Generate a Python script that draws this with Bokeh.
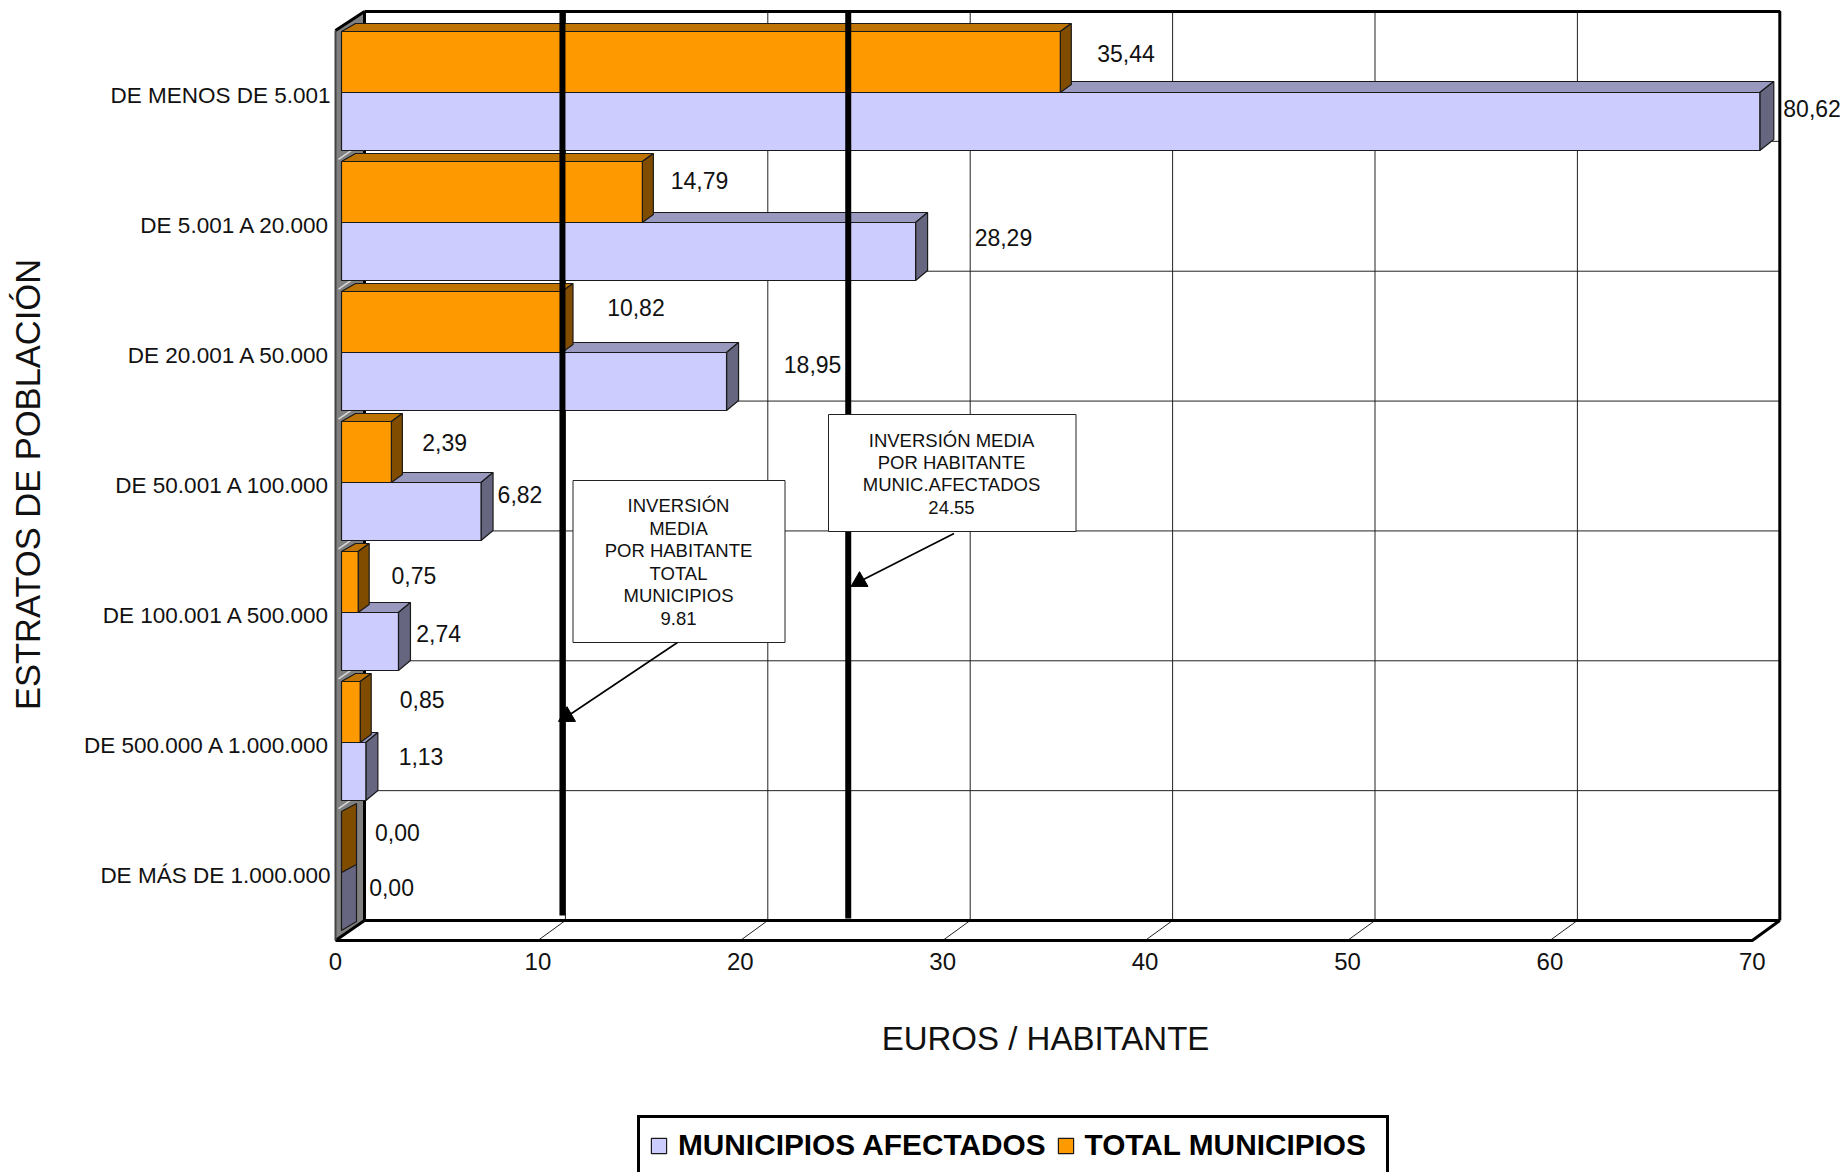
import math
from bokeh.embed import file_html
from bokeh.resources import INLINE
from bokeh.plotting import figure
from bokeh.models import Range1d, FixedTicker, Label, Legend, LegendItem
from bokeh.core.properties import value

# ---- data -----------------------------------------------------------------
categories = ["DE MENOS DE 5.001", "DE 5.001 A 20.000", "DE 20.001 A 50.000",
              "DE 50.001 A 100.000", "DE 100.001 A 500.000",
              "DE 500.000 A 1.000.000", "DE MÁS DE 1.000.000"]
afectados = [80.62, 28.29, 18.95, 6.82, 2.74, 1.13, 0.00]
total = [35.44, 14.79, 10.82, 2.39, 0.75, 0.85, 0.00]
afectados_labels = ["80,62", "28,29", "18,95", "6,82", "2,74", "1,13", "0,00"]
total_labels = ["35,44", "14,79", "10,82", "2,39", "0,75", "0,85", "0,00"]
x_ticks = [0, 10, 20, 30, 40, 50, 60, 70]
AXIS_MAX = 70
mean_lines = [9.78, 23.9]      # where the two black lines stand on the back wall
note_total = ["INVERSIÓN", "MEDIA", "POR HABITANTE", "TOTAL", "MUNICIPIOS", "9.81"]
note_afect = ["INVERSIÓN MEDIA", "POR HABITANTE", "MUNIC.AFECTADOS", "24.55"]

# ---- layout constants: page pixels -> data --------------------------------
FONT = "Liberation Sans"
PX_X, PX_Y = 20.24, 130.0
X0_PAGE, Y0_PAGE = 335.0, 95.0
def X(px): return (px - X0_PAGE) / PX_X
def Y(py): return (py - Y0_PAGE) / PX_Y
def W(d): return d / PX_X
def H(d): return d / PX_Y

CW, CH = 1847, 1172
p = figure(width=CW, height=CH, output_backend="svg", toolbar_location=None,
           x_range=Range1d(X(0), X(CW)), y_range=Range1d(Y(CH), Y(0)),
           min_border_left=0, min_border_right=0, min_border_top=0, min_border_bottom=0,
           background_fill_color="white", border_fill_color="white")
p.outline_line_color = None
p.grid.visible = False

xa = p.xaxis[0]
xa.fixed_location = Y(946)
xa.ticker = FixedTicker(ticks=x_ticks)
xa.axis_line_color = None
xa.major_tick_line_color = None
xa.minor_tick_line_color = None
xa.major_tick_out = 0
xa.major_tick_in = 0
xa.major_label_text_font = FONT
xa.major_label_text_font_size = "24px"
xa.major_label_text_color = "#111111"
xa.major_label_standoff = 6

ya = p.yaxis[0]
ya.fixed_location = X(333)
ya.ticker = FixedTicker(ticks=list(range(len(categories))))
ya.major_label_overrides = {i: c for i, c in enumerate(categories)}
ya.axis_line_color = None
ya.major_tick_line_color = None
ya.minor_tick_line_color = None
ya.major_tick_out = 0
ya.major_tick_in = 0
ya.major_label_text_font = FONT
ya.major_label_text_font_size = "22.5px"
ya.major_label_text_color = "#111111"
ya.major_label_standoff = 3

# ---- chart box ------------------------------------------------------------
DX, DY = 29, 20              # depth of the box in pixels
GX = W(27.5)                 # back-wall shift of the grid and the right edge
nrows = len(categories)
front_top, front_bot = -0.5, nrows - 0.5   # row units on the front plane
back_x0, back_xn = W(DX), AXIS_MAX + GX
back_top, back_bot = front_top - H(DY) + H(1), front_bot - H(DY)

p.patch([0, W(DX), W(DX), 0], [front_top, back_top, back_bot, front_bot],
        fill_color="#808080", line_color="#808080")
for t in x_ticks[1:-1]:
    p.segment(t + GX, back_top, t + GX, back_bot, line_color="#222222", line_width=1)
    p.segment(t, front_bot, t + GX, back_bot, line_color="#222222", line_width=1)
for i in range(1, nrows):
    yb = back_top + i * (back_bot - back_top) / nrows
    p.segment(back_x0, yb, back_xn, yb, line_color="#222222", line_width=1)
    p.segment(W(3), yb + H(DY) - H(2), back_x0, yb, line_color="#d8d8d8", line_width=1.5)

out = dict(line_color="black", line_width=3)
p.line([back_x0, back_x0], [back_top, back_bot], **out)   # behind the bars

# ---- 3D bars --------------------------------------------------------------
BAR_X0 = W(6)
END_SHIFT = W(1.5)
ROW_SPLIT = H(-3)
ORANGE_H, PURPLE_H = H(61), H(58)
left_depth = 14
def bars(vals, y0s, y1s, depths, dys, front, top, side):
    vs = [min(v, AXIS_MAX) for v in vals]
    xr = [BAR_X0 + v + (END_SHIFT if v > 0 else 0) for v in vs]
    tops_x, tops_y, sides_x, sides_y = [], [], [], []
    for x, a, b, d, dy, v in zip(xr, y0s, y1s, depths, dys, vs):
        if v > 0:
            tops_x.append([BAR_X0, BAR_X0 + W(left_depth), x + W(d), x])
            tops_y.append([a, a - H(dy), a - H(dy), a])
        sides_x.append([x, x + W(d), x + W(d), x])
        sides_y.append([a, a - H(dy), b - H(dy), b])
    lw = dict(line_color="#1a1a1a", line_width=1.2)
    p.patches(tops_x, tops_y, fill_color=top, **lw)
    p.patches(sides_x, sides_y, fill_color=side, **lw)
    keep = [i for i, v in enumerate(vs) if v > 0]
    return p.quad(left=[BAR_X0] * len(keep), right=[xr[i] for i in keep],
                  top=[y0s[i] for i in keep], bottom=[y1s[i] for i in keep],
                  fill_color=front, **lw)

rows = list(range(nrows))
r_a = bars(afectados, [r + ROW_SPLIT for r in rows], [r + ROW_SPLIT + PURPLE_H for r in rows],
           [14, 12, 12, 12, 12, 12, 15], [11, 10, 10, 10, 10, 10, 9],
           "#CCCCFF", "#9999BF", "#666680")
r_t = bars(total, [r + ROW_SPLIT - ORANGE_H for r in rows], [r + ROW_SPLIT for r in rows],
           [11, 11, 11, 11, 11, 11, 15], [8, 8, 8, 8, 8, 8, 8],
           "#FF9900", "#BF7300", "#804C00")

# ---- box outline ----------------------------------------------------------
p.line([back_x0, back_xn, back_xn], [back_top, back_top, back_bot], **out)
p.line([back_x0, back_xn], [back_bot, back_bot], **out)
p.line([0, AXIS_MAX, back_xn], [front_bot, front_bot, back_bot], **out)
p.line([back_x0, 0], [back_top, front_top], **out)
p.line([0, back_x0], [front_bot, back_bot], **out)
p.segment(0, front_top, 0, front_bot, line_color="#444444", line_width=2)

# ---- the two mean lines ----------------------------------------------------
for m, y_end in zip(mean_lines, [Y(915), Y(918)]):
    p.segment(m + W(DX), back_top, m + W(DX), y_end, line_color="black", line_width=6)

# ---- notes -----------------------------------------------------------------
def note(x0, x1, y0, y1, lines, cx, ly0, step, tail, head):
    p.segment(X(tail[0]), Y(tail[1]), X(head[0]), Y(head[1]), line_color="black", line_width=1.6)
    p.scatter([X(head[0])], [Y(head[1])], marker="triangle", size=17, fill_color="black", line_color="black")
    p.quad(left=[X(x0)], right=[X(x1)], top=[Y(y0)], bottom=[Y(y1)],
           fill_color="white", line_color="#222222", line_width=1)
    p.text([X(cx)] * len(lines), [Y(ly0 + i * step) for i in range(len(lines))], text=lines,
           text_font=value(FONT), text_font_size="18.5px", text_color="#111111",
           text_align="center", text_baseline="middle")

note(572.5, 784.5, 480, 642, note_total, 678, 505, 22.5, (677, 642), (566.5, 716))
note(828, 1075.5, 414, 531, note_afect, 951, 439.5, 22.4, (953.5, 533), (859, 581))

# ---- value labels ---------------------------------------------------------
S = 1847 / 1568
t_pos = [(931, 45), (569, 153), (515, 261), (358, 375), (332, 488), (339, 593), (318, 706)]
a_pos = [(1513.5, 92), (827, 201), (665, 309), (422, 419), (353, 537), (338, 642), (313, 753)]
for labs, pos in ((total_labels, t_pos), (afectados_labels, a_pos)):
    p.text([X(a * S) for a, _ in pos], [Y(b * S) for _, b in pos], text=labs,
           text_font=value(FONT), text_font_size="23px", text_color="#111111",
           text_align="left", text_baseline="middle")

# ---- axis titles (placed where the reference has them) ---------------------
p.add_layout(Label(x=X(1045), y=Y(1038), text="EUROS / HABITANTE", text_font=FONT,
                   text_font_size="33px", text_color="#111111", text_align="center",
                   text_baseline="middle"))
p.add_layout(Label(x=X(27), y=Y(484), text="ESTRATOS DE POBLACIÓN", text_font=FONT,
                   text_font_size="34.5px", text_color="#111111", text_align="center",
                   text_baseline="middle", angle=math.pi / 2))

# ---- legend ----------------------------------------------------------------
legend = Legend(items=[LegendItem(label="MUNICIPIOS AFECTADOS", renderers=[r_a]),
                       LegendItem(label="TOTAL MUNICIPIOS", renderers=[r_t])],
                orientation="horizontal", location=(637, -3),
                label_text_font=FONT, label_text_font_size="29.8px",
                label_text_font_style="bold", label_text_color="black",
                label_height=36, label_width=292, glyph_width=19, glyph_height=19,
                label_standoff=10, spacing=10,
                padding=9, margin=0, border_line_color="black", border_line_alpha=1,
                border_line_width=3, background_fill_alpha=1)
p.add_layout(legend)

open("out.html", "w").write(file_html(p, INLINE))
